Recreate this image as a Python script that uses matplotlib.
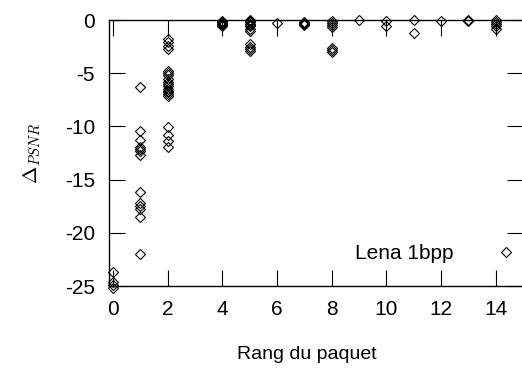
import matplotlib
matplotlib.use("Agg")
import matplotlib.pyplot as plt

plt.rcParams["font.family"] = ["Liberation Sans", "DejaVu Sans"]
plt.rcParams["mathtext.fontset"] = "cm"
plt.rcParams["axes.unicode_minus"] = False

# Packet rank and PSNR loss per lost packet
rank_0 = [-23.7, -24.6, -24.9, -25.2]
rank_1 = [-6.3, -10.4, -11.3, -11.9, -12.1, -12.3, -12.7,
          -16.2, -17.2, -17.5, -17.8, -18.5, -22.0]
rank_2 = [-1.8, -2.1, -2.4, -2.7,
          -4.8, -5.0, -5.2, -5.5, -5.8, -6.0, -6.2, -6.5, -6.7, -6.8, -7.0, -7.1,
          -10.1, -10.8, -11.4, -11.9]
rank_4 = [-0.1, -0.2, -0.3, -0.4, -0.5, -0.6]
rank_5 = [0.0, -0.1, -0.2, -0.4, -0.5, -0.6, -0.8, -1.0,
          -2.3, -2.5, -2.7, -2.9]
rank_6 = [-0.3]
rank_7 = [-0.2, -0.3, -0.4, -0.5]
rank_8 = [-0.1, -0.3, -0.5, -0.7, -2.6, -2.8, -3.0]
rank_9 = [0.0]
rank_10 = [-0.05, -0.6]
rank_11 = [0.0, -1.2]
rank_12 = [-0.05]
rank_13 = [0.0, -0.1]
rank_14 = [0.0, -0.2, -0.4, -0.6, -0.8]

series = {0: rank_0, 1: rank_1, 2: rank_2, 4: rank_4, 5: rank_5, 6: rank_6,
          7: rank_7, 8: rank_8, 9: rank_9, 10: rank_10, 11: rank_11,
          12: rank_12, 13: rank_13, 14: rank_14}

xs, ys = [], []
for r, vals in series.items():
    xs += [r] * len(vals)
    ys += vals

x_ticks = [0, 2, 4, 6, 8, 10, 12, 14]
y_ticks = [-25, -20, -15, -10, -5, 0]

W, H = 522, 372
fig = plt.figure(figsize=(W / 100, H / 100), dpi=100)
ax = fig.add_axes([109 / W, (H - 286) / H, (523 - 109) / W, 266 / H])

pts, = ax.plot(xs, ys, linestyle="none", marker="D", ms=5.2,
               mfc="none", mec="black", mew=0.8, clip_on=False,
               label="Lena 1bpp")

ax.set_xlim(-0.15, 15.0)
ax.set_ylim(-25, 0)
ax.set_xticks(x_ticks)
ax.set_yticks(y_ticks)
ax.tick_params(direction="in", length=11.5, width=0.8, top=True, right=True,
               labelsize=15, colors="black")
ax.tick_params(axis="x", pad=10)
ax.tick_params(axis="y", pad=10)
for s in ax.spines.values():
    s.set_linewidth(1.0)

ax.set_xlabel("Rang du paquet", fontsize=14)
ax.xaxis.set_label_coords(0.478, -0.225)
ax.set_ylabel(r"$\Delta_{PSNR}$", fontsize=15, labelpad=16)

ax.legend(handles=[pts], loc="center right", frameon=False, markerfirst=False,
          fontsize=15, handlelength=1.0, handletextpad=2.0, borderpad=0,
          borderaxespad=0, bbox_to_anchor=(0.984, 0.122))

fig.savefig("out.png", dpi=100)
